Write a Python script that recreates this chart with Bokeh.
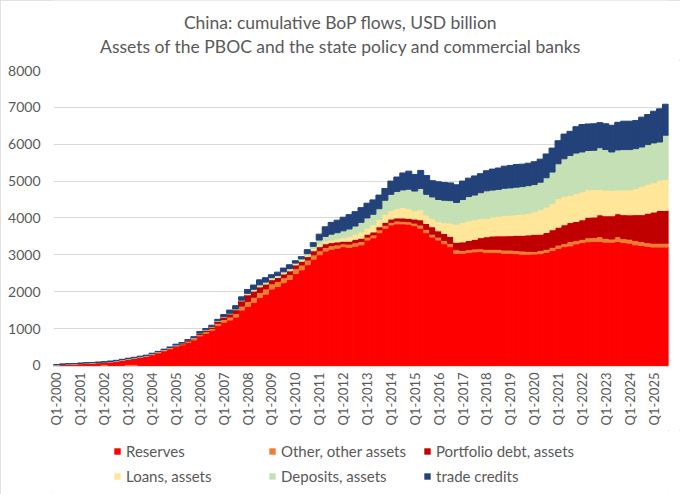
import numpy as np
from bokeh.plotting import figure
from bokeh.layouts import column
from bokeh.models import (ColumnDataSource, Range1d, FixedTicker, Legend,
                          LegendItem, Label)
from bokeh.embed import file_html
from bokeh.resources import INLINE

# ---------------- data (USD billion, cumulative since Q1-2000) ----------------
quarters = [f"Q{q}-{y}" for y in range(2000, 2026) for q in range(1, 5)][:103]

year_ticks = ["Q1-2000", "Q1-2001", "Q1-2002", "Q1-2003", "Q1-2004", "Q1-2005",
              "Q1-2006", "Q1-2007", "Q1-2008", "Q1-2009", "Q1-2010", "Q1-2011",
              "Q1-2012", "Q1-2013", "Q1-2014", "Q1-2015", "Q1-2016", "Q1-2017",
              "Q1-2018", "Q1-2019", "Q1-2020", "Q1-2021", "Q1-2022", "Q1-2023",
              "Q1-2024", "Q1-2025"]

reserves = [12, 22, 30, 35, 45, 55, 62, 72, 80, 95, 115, 140,
            170, 195, 220, 245, 290, 340, 395, 450, 510, 555, 620, 690,
            800, 875, 945, 1080, 1170, 1230, 1310, 1500, 1600, 1710, 1840, 1930,
            2070, 2140, 2240, 2330, 2490, 2590, 2730, 2880, 3000, 3100, 3150, 3180,
            3220, 3200, 3230, 3270, 3400, 3460, 3600, 3720, 3810, 3840, 3840, 3830,
            3790, 3720, 3600, 3480, 3400, 3300, 3220, 3040, 3040, 3060, 3080, 3090,
            3060, 3060, 3060, 3040, 3040, 3030, 3015, 3015, 3020, 3030, 3070, 3115,
            3175, 3220, 3240, 3295, 3330, 3355, 3360, 3360, 3340, 3340, 3360, 3330,
            3315, 3270, 3255, 3225, 3210, 3210, 3210]

other = [-25, 2, 3, 3, 3, 3, 3, 3, -15, 3, 3, 5,
         -20, -25, 5, 8, 10, 10, 15, 15, 20, 25, 30, 35,
         40, 45, 55, 65, 75, 85, 95, 110, 135, 140, 140, 145,
         145, 140, 140, 135, 135, 135, 130, 120, 110, 100, 100, 90,
         80, 90, 100, 90, 80, 80, 80, 80, 70, 80, 70, 70,
         70, 90, 90, 80, 80, 90, 90, 100, 80, 80, 80, 75,
         90, 90, 90, 90, 90, 85, 90, 80, 70, 90, 80, 90,
         90, 90, 120, 90, 90, 110, 110, 135, 110, 90, 135, 110,
         110, 115, 105, 105, 105, 105, 105]

portfolio = [2, 2, 2, 2, 2, 2, 2, 2, 3, 3, 3, 3,
             5, 5, 5, 5, 8, 10, 10, 10, 15, 15, 20, 20,
             25, 35, 45, 55, 70, 85, 105, 140, 180, 165, 150, 130,
             110, 105, 100, 100, 100, 100, 90, 110, 110, 100, 80, 80,
             70, 80, 90, 90, 80, 80, 80, 80, 90, 80, 90, 90,
             110, 140, 160, 200, 170, 190, 190, 200, 230, 250, 260, 300,
             340, 360, 365, 385, 390, 415, 425, 445, 465, 440, 455, 475,
             485, 505, 515, 520, 530, 555, 555, 590, 610, 630, 620, 650,
             660, 705, 730, 800, 845, 890, 890]

loans = [2, 2, 2, 2, 2, 2, 2, 2, 2, 2, 2, 2,
         2, 2, 2, 2, 2, 3, 3, 3, 3, 3, 5, 5,
         5, 5, 5, 5, 5, 5, 10, 10, 20, 25, 25, 25,
         25, 25, 30, 30, 25, 35, 40, 60, 70, 70, 70, 80,
         90, 120, 130, 170, 160, 200, 200, 220, 230, 260, 290, 270,
         230, 270, 230, 220, 250, 290, 360, 490, 530, 530, 530, 520,
         495, 515, 530, 550, 555, 560, 570, 585, 610, 665, 690, 710,
         775, 775, 740, 755, 755, 750, 745, 690, 695, 690, 645, 665,
         675, 710, 770, 785, 795, 820, 840]

deposits = [2, 2, 2, 2, 3, 3, 3, 3, 3, 3, 3, 3,
            3, 3, 3, 3, 5, 5, 5, 5, 5, 5, 5, 5,
            5, 5, 5, 5, 5, 10, 10, 10, 20, 25, 30, 30,
            30, 30, 30, 30, 25, 30, 40, 60, 110, 130, 160, 170,
            190, 210, 230, 260, 280, 280, 290, 380, 440, 460, 470, 520,
            530, 580, 560, 590, 600, 610, 610, 590, 620, 660, 670, 700,
            750, 730, 730, 740, 740, 745, 750, 750, 740, 745, 795, 855,
            945, 1015, 1080, 1100, 1085, 1060, 1065, 1130, 1100, 1040, 1085, 1100,
            1095, 1080, 1065, 1075, 1080, 1035, 1200]

trade_credits = [7, 7, 7, 7, 8, 8, 8, 8, 12, 12, 12, 12,
                 15, 15, 15, 15, 15, 12, 12, 17, 22, 17, 20, 25,
                 45, 35, 35, 40, 55, 85, 90, 90, 105, 115, 135, 120,
                 80, 90, 100, 105, 65, 60, 110, 100, 160, 260, 320, 340,
                 370, 390, 390, 400, 400, 390, 370, 320, 360, 390, 460, 490,
                 450, 490, 510, 440, 480, 480, 480, 480, 500, 500, 520, 515,
                 545, 570, 580, 600, 610, 615, 610, 610, 620, 625, 645, 650,
                 625, 670, 655, 715, 745, 720, 720, 680, 700, 725, 750, 770,
                 770, 765, 810, 815, 860, 900, 840]

series_names = ["Reserves", "Other, other assets", "Portfolio debt, assets",
                "Loans, assets", "Deposits, assets", "trade credits"]
series_values = [reserves, other, portfolio, loans, deposits, trade_credits]
series_colors = ["#FF0000", "#ED7D31", "#C00000", "#FFE699", "#C5E0B4", "#23427A"]

title_lines = ["China: cumulative BoP flows, USD billion",
               "Assets of the PBOC and the state policy and commercial banks"]

TEXT = "#595959"
FONT = "Lato"
W = 680
TITLE_H = 60
MAIN_H = 370
LEG_H = 64


def bare_strip(height):
    f = figure(width=W, height=height, output_backend="svg",
               toolbar_location=None, x_axis_type=None, y_axis_type=None,
               min_border=0, x_range=Range1d(0, 1), y_range=Range1d(0, 1))
    f.outline_line_color = None
    f.grid.grid_line_color = None
    f.title.text = ""
    return f


# ---------------- title strip ----------------
tf = bare_strip(TITLE_H)
for txt, ty in zip(title_lines, [38, 14]):
    tf.add_layout(Label(x=287, y=ty, x_units="screen", y_units="screen",
                        text=txt, text_align="center", text_baseline="middle",
                        text_font=FONT, text_font_size="17.5px",
                        text_color=TEXT))

# ---------------- main chart ----------------
n = len(quarters)
p = figure(width=W, height=MAIN_H, output_backend="svg", toolbar_location=None,
           x_range=Range1d(-0.5, n - 0.5), y_range=Range1d(-30, 8000),
           min_border_left=53, min_border_right=12, min_border_top=10,
           min_border_bottom=64)
p.outline_line_color = None
p.background_fill_color = "white"
p.border_fill_color = "white"
p.title.text = ""

x = np.arange(n)
pos = np.zeros(n)
neg = np.zeros(n)
renderers = []
for name, vals, color in zip(series_names, series_values, series_colors):
    v = np.array(vals, dtype=float)
    bottom = np.where(v >= 0, pos, neg + v)
    top = np.where(v >= 0, pos + v, neg)
    pos = np.where(v >= 0, pos + v, pos)
    neg = np.where(v < 0, neg + v, neg)
    src = ColumnDataSource(dict(x=x, top=top, bottom=bottom, q=quarters))
    r = p.vbar(x="x", width=1.0, top="top", bottom="bottom", source=src,
               fill_color=color, line_color=color, line_width=1)
    renderers.append(r)

tick_pos = [quarters.index(t) for t in year_ticks]
p.xaxis.ticker = FixedTicker(ticks=tick_pos)
p.xaxis.major_label_overrides = {i: t for i, t in zip(tick_pos, year_ticks)}
p.xaxis.major_label_orientation = np.pi / 2
p.xaxis.major_label_text_font = FONT
p.xaxis.major_label_text_font_size = "13px"
p.xaxis.major_label_text_color = TEXT
p.xaxis.major_label_standoff = 6
p.xaxis.axis_line_color = "#D9D9D9"

p.yaxis.ticker = FixedTicker(ticks=list(range(0, 8001, 1000)))
p.yaxis.major_label_text_font = FONT
p.yaxis.major_label_text_font_size = "14px"
p.yaxis.major_label_text_color = TEXT
p.yaxis.major_label_standoff = 13
p.yaxis.axis_line_color = None

for ax in (p.xaxis, p.yaxis):
    ax.major_tick_out = 0
    ax.major_tick_in = 0
    ax.minor_tick_out = 0
    ax.minor_tick_in = 0
    ax.major_tick_line_color = None
    ax.minor_tick_line_color = None

p.xgrid.grid_line_color = None
p.ygrid.grid_line_color = "#D9D9D9"
p.ygrid.grid_line_width = 1

# ---------------- legend strip ----------------
lf = bare_strip(LEG_H)
legend_rows = [((0, 3), 34), ((3, 6), 9)]
col_x = [60, 215, 370]
for (a, b), ly in legend_rows:
    for k, cx in zip(range(a, b), col_x):
        # swatch renderer kept outside the visible range; only its legend shows
        dummy = lf.vbar(x=[5.0], top=[6.0], bottom=[5.0], width=0.5,
                        fill_color=series_colors[k], line_color=None)
        lg = Legend(items=[LegendItem(label=series_names[k], renderers=[dummy])],
                    location=(cx, ly), padding=0, margin=0, spacing=0,
                    border_line_color=None, background_fill_alpha=0,
                    glyph_width=8, glyph_height=8, label_standoff=5,
                    label_text_font=FONT, label_text_font_size="15px",
                    label_text_color=TEXT, label_height=18)
        lf.add_layout(lg, "center")

# thin light-grey chart-area border (drawn as a CSS outline, no size change)
layout = column(tf, p, lf, spacing=0,
                styles={"outline": "1px solid #D9D9D9", "outline-offset": "-1px"})
open("out.html", "w").write(file_html(layout, INLINE))
